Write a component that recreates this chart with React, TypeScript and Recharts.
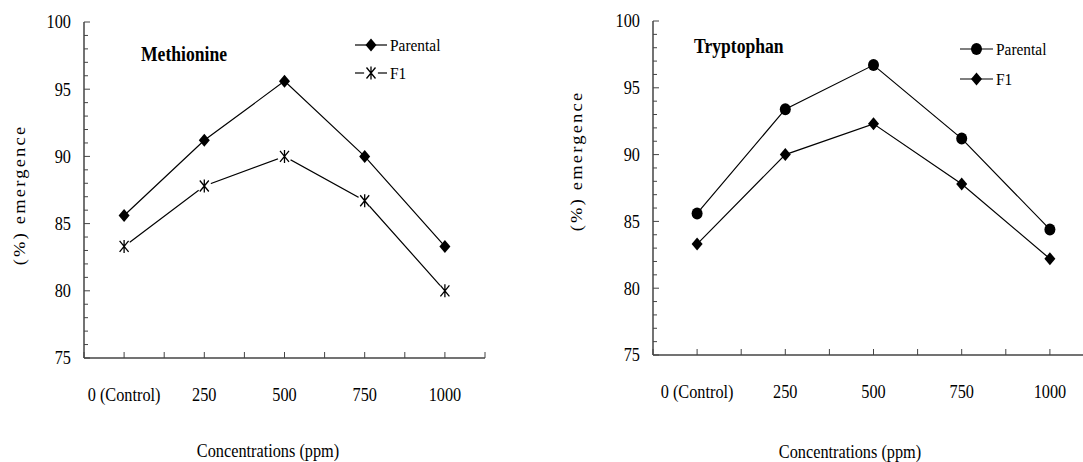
import { LineChart, Line, XAxis, YAxis } from "recharts";

const categories = ["0 (Control)", "250", "500", "750", "1000"];
const methParental = [85.6, 91.2, 95.6, 90.0, 83.3];
const methF1 = [83.3, 87.8, 90.0, 86.7, 80.0];
const trypParental = [85.6, 93.4, 96.7, 91.2, 84.4];
const trypF1 = [83.3, 90.0, 92.3, 87.8, 82.2];
const seriesNames = ["Parental", "F1"];

const xTicks = [-0.5, 0, 0.5, 1, 1.5, 2, 2.5, 3, 3.5, 4, 4.5];
const yTicks = Array.from({ length: 26 }, (_, i) => 75 + i);

const FONT = "Liberation Serif, Tinos, Times New Roman, DejaVu Serif, serif";
const SX = 0.88; // the source text is a little narrow
const AXIS = "#444";

const methData = categories.map((c, i) => ({ x: i, label: c, parental: methParental[i], f1: methF1[i] }));
const trypData = categories.map((c, i) => ({ x: i, label: c, parental: trypParental[i], f1: trypF1[i] }));

function XTick({ x, y, payload }: any) {
  const v = payload.value;
  const idx = Number.isInteger(v) ? v : -1;
  return (
    <g>
      <line x1={x} x2={x} y1={y} y2={y - 6} stroke={AXIS} />
      {idx >= 0 && (
        <text
          transform={`translate(${x},${y + 37}) scale(${SX},1)`}
          textAnchor="middle"
          dominantBaseline="central"
          style={{ fontFamily: FONT, fontSize: 18.5 }}
          fill="#000"
        >
          {categories[idx]}
        </text>
      )}
    </g>
  );
}

function YTick({ x, y, payload }: any) {
  const major = payload.value % 5 === 0;
  return (
    <g>
      <line x1={x} x2={x + (major ? 6 : 4)} y1={y} y2={y} stroke={AXIS} />
      {major && (
        <text
          transform={`translate(${x - 13},${y}) scale(${SX},1)`}
          textAnchor="end"
          dominantBaseline="central"
          style={{ fontFamily: FONT, fontSize: 18.5 }}
          fill="#000"
        >
          {payload.value}
        </text>
      )}
    </g>
  );
}

function Diamond({ cx, cy }: { cx: number; cy: number }) {
  return <path d={`M${cx},${cy - 6.5}L${cx + 5.5},${cy}L${cx},${cy + 6.5}L${cx - 5.5},${cy}Z`} fill="#000" />;
}

function Dot({ cx, cy }: { cx: number; cy: number }) {
  return <ellipse cx={cx} cy={cy} rx={5.5} ry={6} fill="#000" />;
}

function Star({ cx, cy }: { cx: number; cy: number }) {
  return (
    <g>
      <ellipse cx={cx} cy={cy} rx={7} ry={7.5} fill="#fff" />
      <path
        d={`M${cx - 4.5},${cy - 5.5}L${cx + 4.5},${cy + 5.5}M${cx + 4.5},${cy - 5.5}L${cx - 4.5},${cy + 5.5}M${cx},${cy - 6.5}L${cx},${cy + 6.5}`}
        stroke="#000"
        strokeWidth={1.3}
        fill="none"
      />
    </g>
  );
}

const markers: Record<string, (p: any) => any> = {
  diamond: (p) => <Diamond key={p.index} cx={p.cx} cy={p.cy} />,
  dot: (p) => <Dot key={p.index} cx={p.cx} cy={p.cy} />,
  star: (p) => <Star key={p.index} cx={p.cx} cy={p.cy} />,
};

function Panel({ data, width, margin, parentMark, f1Mark }: any) {
  return (
    <LineChart width={width} height={462} data={data} margin={margin}>
      <XAxis
        dataKey="x"
        type="number"
        domain={[-0.5, 4.5]}
        ticks={xTicks}
        interval={0}
        allowDecimals
        tickSize={0}
        tickMargin={0}
        tickLine={false}
        tick={<XTick />}
        stroke={AXIS}
        strokeWidth={1.5}
        height={30}
      />
      <YAxis
        type="number"
        domain={[75, 100]}
        ticks={yTicks}
        interval={0}
        tickSize={0}
        tickMargin={0}
        tickLine={false}
        tick={<YTick />}
        stroke={AXIS}
        strokeWidth={1.5}
        width={60}
      />
      <Line
        dataKey="parental"
        name={seriesNames[0]}
        stroke="#000"
        strokeWidth={1.2}
        dot={markers[parentMark]}
        activeDot={false}
        isAnimationActive={false}
      />
      <Line
        dataKey="f1"
        name={seriesNames[1]}
        stroke="#000"
        strokeWidth={1.2}
        dot={markers[f1Mark]}
        activeDot={false}
        isAnimationActive={false}
      />
    </LineChart>
  );
}

function LegendItem({ x1, x2, y, name, mark }: any) {
  const cx = (x1 + x2) / 2;
  return (
    <g>
      <line x1={x1} x2={x2} y1={y} y2={y} stroke="#000" strokeWidth={1.2} />
      {mark === "diamond" && <Diamond cx={cx} cy={y} />}
      {mark === "dot" && <Dot cx={cx} cy={y} />}
      {mark === "star" && <Star cx={cx} cy={y} />}
      <text
        transform={`translate(${x2 + 3},${y}) scale(${SX},1)`}
        dominantBaseline="central"
        style={{ fontFamily: FONT, fontSize: 17.5 }}
        fill="#000"
      >
        {name}
      </text>
    </g>
  );
}

function Txt({ x, y, children, size = 18, bold = false, anchor = "middle", rotate = false, spacing = 0 }: any) {
  return (
    <text
      transform={`translate(${x},${y}) scale(${SX},1)${rotate ? " rotate(-90)" : ""}`}
      textAnchor={anchor}
      dominantBaseline="central"
      style={{ fontFamily: FONT, fontSize: size, fontWeight: bold ? "bold" : "normal", letterSpacing: spacing }}
      fill="#000"
    >
      {children}
    </text>
  );
}

export default function App() {
  return (
    <div
      style={{
        position: "absolute",
        left: 0,
        top: 0,
        width: 1083,
        height: 462,
        overflow: "hidden",
        background: "#fff",
      }}
    >
      <div style={{ position: "absolute", left: 0, top: 0 }}>
        <Panel
          data={methData}
          width={540}
          margin={{ top: 22, right: 55, bottom: 74, left: 24 }}
          parentMark="diamond"
          f1Mark="star"
        />
      </div>
      <div style={{ position: "absolute", left: 540, top: 0 }}>
        <Panel
          data={trypData}
          width={560}
          margin={{ top: 21, right: 6, bottom: 77, left: 53 }}
          parentMark="dot"
          f1Mark="diamond"
        />
      </div>
      <svg
        width={1083}
        height={462}
        style={{ position: "absolute", left: 0, top: 0, pointerEvents: "none" }}
      >
        <Txt x={141} y={54} size={20} bold anchor="start">Methionine</Txt>
        <Txt x={694} y={46} size={20} bold anchor="start">Tryptophan</Txt>
        <Txt x={19} y={195} size={18.5} rotate spacing={2.2}>(%) emergence</Txt>
        <Txt x={576} y={161} size={18.5} rotate spacing={2.2}>(%) emergence</Txt>
        <Txt x={268} y={451} size={18.5}>Concentrations (ppm)</Txt>
        <Txt x={850} y={452} size={18.5}>Concentrations (ppm)</Txt>
        <LegendItem x1={355} x2={387} y={45} name={seriesNames[0]} mark="diamond" />
        <LegendItem x1={355} x2={387} y={73} name={seriesNames[1]} mark="star" />
        <LegendItem x1={960} x2={993} y={49} name={seriesNames[0]} mark="dot" />
        <LegendItem x1={960} x2={993} y={79} name={seriesNames[1]} mark="diamond" />
      </svg>
    </div>
  );
}
